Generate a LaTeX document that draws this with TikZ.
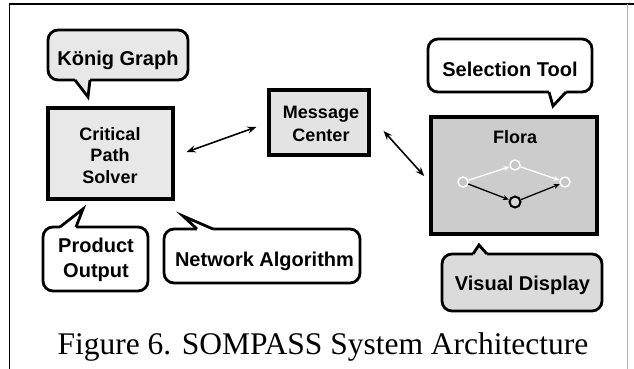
\documentclass[tikz,border=0pt]{standalone}
\usepackage{fontspec}
\setmainfont{Liberation Sans}
\newfontfamily\capfont{Liberation Serif}
\usetikzlibrary{arrows.meta,calc}

\tikzset{
  bubble/.style={draw, line width=2.8pt, rounded corners=10pt, inner sep=0pt, fill=#1},
  bubble/.default=white,
  tailline/.style={line width=2.8pt, line join=miter},
  box/.style={draw, line width=3.2pt, inner sep=0pt, fill=#1},
  lbl/.style={font=\bfseries\fontsize{20}{24}\selectfont, anchor=base, inner sep=0pt},
  boxlbl/.style={font=\bfseries\fontsize{18}{21.5}\selectfont, anchor=base, inner sep=0pt},
  link/.style={line width=1.6pt, {Stealth[length=9pt,width=7pt]}-{Stealth[length=9pt,width=7pt]}},
  gnode/.style={circle, draw=white, line width=1.4pt, fill=gray!45, minimum size=10pt, inner sep=0pt},
  gsel/.style={circle, draw=black, line width=2pt, fill=gray!30, minimum size=11pt, inner sep=0pt},
  gdark/.style={line width=1.3pt, -{Stealth[length=6pt,width=5pt]}},
  glight/.style={line width=1.3pt, draw=white, -{Stealth[length=6pt,width=5pt]}},
}

\begin{document}
\begin{tikzpicture}[x=1pt,y=-1pt]
\useasboundingbox (0,0) rectangle (634,369);

% page frame
\draw[line width=1.6pt] (9.5,369) -- (9.5,4) -- (634,4);
\draw[line width=1pt, gray!60] (627.5,4) -- (627.5,369);

% components
\node[box=gray!18, minimum width=125pt, minimum height=91pt] (cps) at (110.5,153.5) {};
\node[box=gray!22, minimum width=100pt, minimum height=65pt] (msg) at (319,122.5) {};
\node[box=gray!40, minimum width=166pt, minimum height=117pt, line width=3.6pt] (flora) at (514,175.5) {};

\node[boxlbl] (cps1) at (110,140) {Critical};
\node[boxlbl] (cps2) at (110,161.5) {Path};
\node[boxlbl] (cps3) at (110,183) {Solver};
\node[boxlbl] (msg1) at (321,118.5) {Message};
\node[boxlbl] (msg2) at (321,141) {Center};
\node[boxlbl] (flo) at (515,143) {Flora};

% small graph inside Flora
\node[gnode] (ga) at (463,182) {};
\node[gnode] (gb) at (515,165) {};
\node[gnode] (gc) at (565,182) {};
\node[gsel]  (gd) at (515,202) {};
\draw[glight] (ga) -- (gb);
\draw[glight] (gb) -- (gc);
\draw[gdark] (ga) -- (gd);
\draw[gdark] (gd) -- (gc);

% links between components
\coordinate (l1a) at ($(cps.east)+(12,-1.5)$);
\coordinate (l1b) at ($(msg.west)+(-11,4.5)$);
\draw[link] (l1a) -- (l1b);
\coordinate (l2a) at ($(msg.east)+(13,8.5)$);
\coordinate (l2b) at ($(flora.west)+(-5,0.5)$);
\draw[link] (l2a) -- (l2b);

% speech bubbles
% Konig Graph
\node[bubble=gray!18, minimum width=140pt, minimum height=50pt] (kb) at (118,55) {};
\fill[gray!18] (75,77) -- (75,80) -- (88,97) -- (90,80) -- (90,77) -- cycle;
\draw[tailline] (75,80) -- (88,97) -- (90,80);
\node[lbl] (kg) at (118,66) {König Graph};

% Selection Tool
\node[bubble, minimum width=164pt, minimum height=53pt] (sb) at (510,65.5) {};
\fill[white] (549,89) -- (549,92) -- (553,106) -- (566,92) -- (566,89) -- cycle;
\draw[tailline] (549,92) -- (553,106) -- (566,92);
\node[lbl] (st) at (510,76) {Selection Tool};

% Product Output
\node[bubble, minimum width=105pt, minimum height=64pt] (pb) at (95.5,259) {};
\fill[white] (60,230) -- (60,227) -- (83,209) -- (76,227) -- (76,230) -- cycle;
\draw[tailline] (60,227) -- (83,209) -- (76,227);
\node[lbl] (po1) at (96,252) {Product};
\node[lbl] (po2) at (96,277) {Output};

% Network Algorithm
\node[bubble, minimum width=196pt, minimum height=54pt] (nb) at (262,256) {};
\fill[white] (197,232) -- (197,229) -- (183,216) -- (213,229) -- (213,232) -- cycle;
\draw[tailline] (197,229) -- (183,216) -- (213,229);
\node[lbl] (na) at (264.5,266) {Network Algorithm};

% Visual Display
\node[bubble=gray!28, minimum width=160pt, minimum height=57pt] (vb) at (522,282.5) {};
\fill[gray!28] (473,257) -- (473,254) -- (479,245) -- (487,254) -- (487,257) -- cycle;
\draw[tailline] (473,254) -- (479,245) -- (487,254);
\node[lbl] (vd) at (522.5,290) {Visual Display};

% caption
\node[anchor=base, inner sep=0pt, font=\capfont\fontsize{31.5}{36}\selectfont] (cap) at (323,354) {Figure 6. SOMPASS System Architecture};
\end{tikzpicture}
\end{document}
